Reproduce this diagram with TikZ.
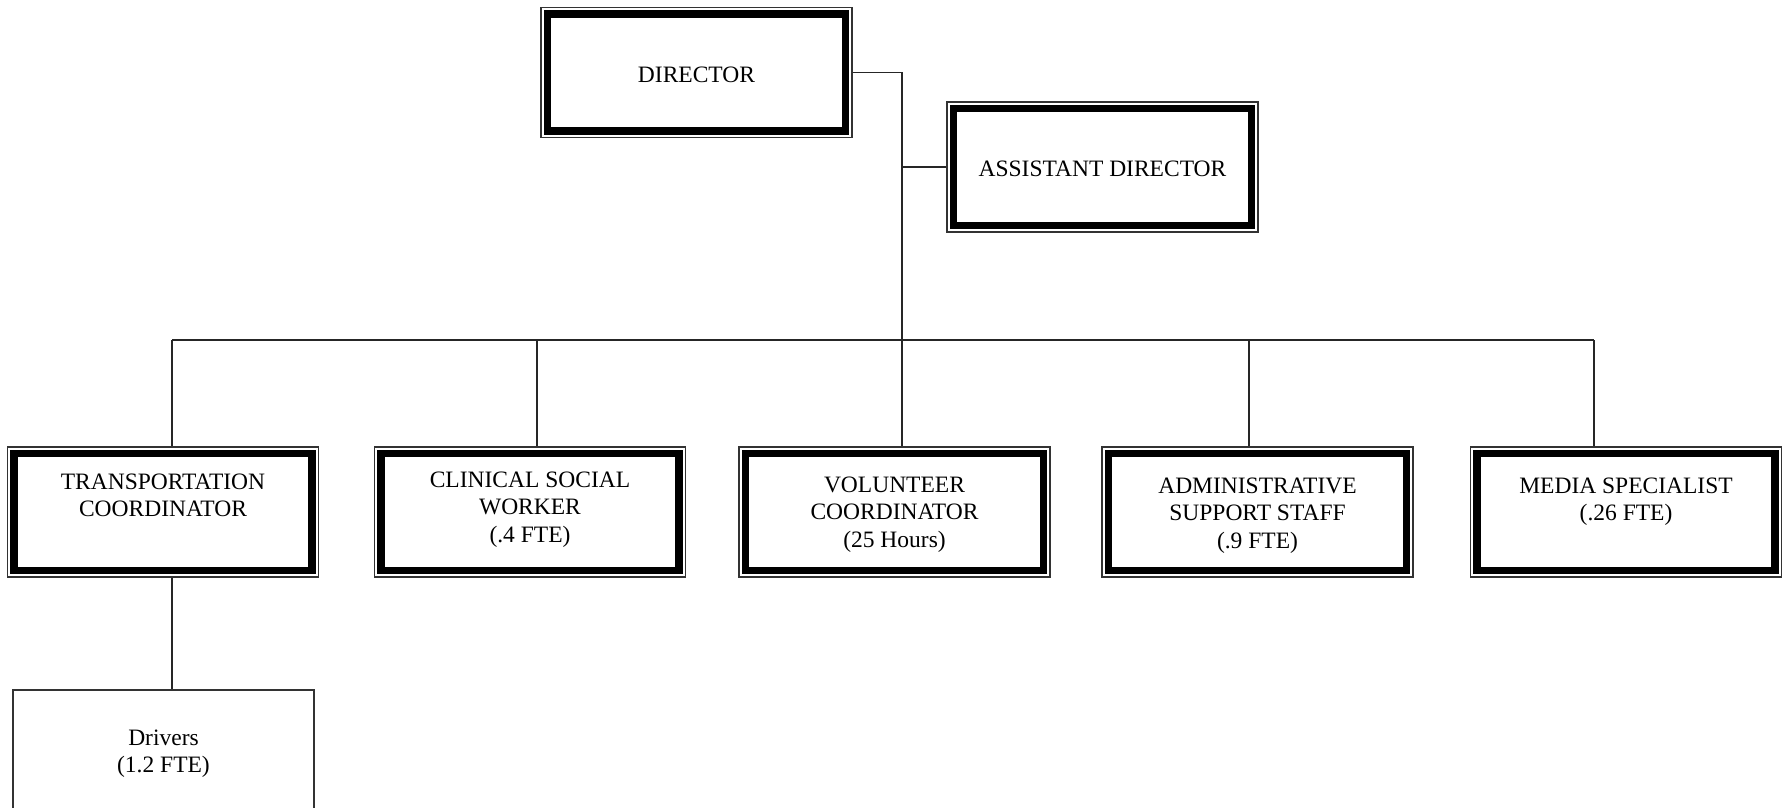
\documentclass[tikz,border=0pt]{standalone}
\usepackage{fontspec}
\setmainfont{Liberation Serif}
\begin{document}
\begin{tikzpicture}[x=1pt,y=-1pt,
  orgbox/.style={draw=black!80, line width=1.4pt, minimum width=311pt, minimum height=130pt,
    inner sep=0pt,
    path picture={\draw[line width=7.5pt, black]
      ([shift={(6.3pt,6.3pt)}]path picture bounding box.south west) rectangle
      ([shift={(-6.3pt,-6.3pt)}]path picture bounding box.north east);}},
  plainbox/.style={draw=black!80, line width=1.5pt, minimum width=301pt, minimum height=125pt, inner sep=0pt},
  boxtext/.style={font=\fontsize{23.5pt}{27.5pt}\selectfont, align=center, inner sep=0pt, anchor=base},
  link/.style={draw=black!85, line width=1.5pt}
]
\useasboundingbox (0,0) rectangle (1786,807);

% boxes
\node[orgbox] (dir)   at (696.5,72.5) {};
\node[orgbox] (asst)  at (1102.5,167) {};
\node[orgbox] (trans) at (163,512) {};
\node[orgbox] (clin)  at (530,512) {};
\node[orgbox] (vol)   at (894.5,512) {};
\node[orgbox] (adm)   at (1257.5,512) {};
\node[orgbox] (med)   at (1626,512) {};
\node[plainbox] (drv) at (163.5,752.5) {};

% labels (anchored at the baseline of their last line)
\node[boxtext] (dirt)   at (696.5,82)  {DIRECTOR};
\node[boxtext] (asstt)  at (1102.5,176) {ASSISTANT DIRECTOR};
\node[boxtext] (transt) at (163,516.5)  {TRANSPORTATION\\COORDINATOR};
\node[boxtext] (clint)  at (530,542)  {CLINICAL SOCIAL\\WORKER\\(.4 FTE)};
\node[boxtext] (volt)   at (894.5,547) {VOLUNTEER\\COORDINATOR\\(25 Hours)};
\node[boxtext] (admt)   at (1257.5,548) {ADMINISTRATIVE\\SUPPORT STAFF\\(.9 FTE)};
\node[boxtext] (medt)   at (1626,520.5) {MEDIA SPECIALIST\\(.26 FTE)};
\node[boxtext] (drvt)   at (163.5,772.5) {Drivers\\(1.2 FTE)};

% junction points on the horizontal bus
\coordinate (jtr)  at (172,340);
\coordinate (jcl)  at (537,340);
\coordinate (jvo)  at (902,340);
\coordinate (jad)  at (1249,340);
\coordinate (jme)  at (1594,340);

% connectors
\draw[link] (dir.east) -| (jvo);
\draw[link] (asst.west) -- (asst.west -| jvo);
\draw[link] (jtr) -- (jme);
\draw[link] (jtr) -- (jtr |- trans.north);
\draw[link] (jcl) -- (jcl |- clin.north);
\draw[link] (jvo) -- (jvo |- vol.north);
\draw[link] (jad) -- (jad |- adm.north);
\draw[link] (jme) -- (jme |- med.north);
\draw[link] (trans.south -| jtr) -- (drv.north -| jtr);
\end{tikzpicture}
\end{document}
